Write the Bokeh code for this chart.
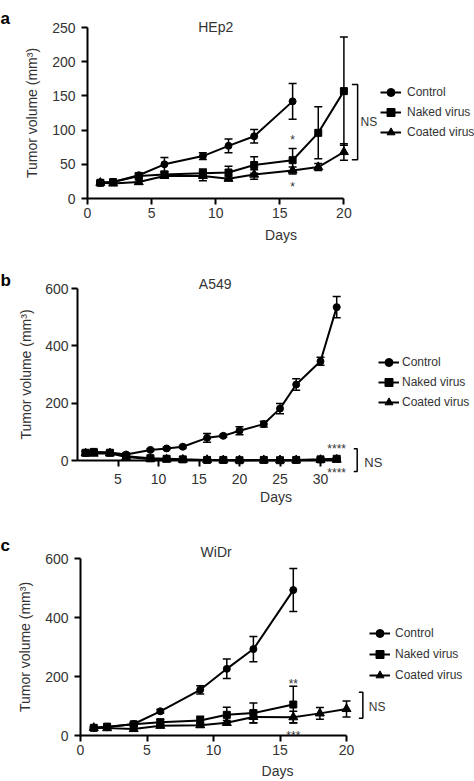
from bokeh.plotting import figure
from bokeh.models import (ColumnDataSource, Whisker, TeeHead, Legend, LegendItem,
                          FixedTicker, Range1d)
from bokeh.layouts import column
from bokeh.core.properties import value
from bokeh.embed import file_html
from bokeh.resources import INLINE

FONT = "Liberation Sans"
TXT = "#333333"

series_names = ["Control", "Naked virus", "Coated virus"]
series_markers = ["circle", "square", "triangle"]

# ---------------- Panel a : HEp2 ----------------
title_a = "HEp2"
days_ctrl_a = [1, 2, 4, 6, 9, 11, 13, 16]
ctrl_a = [23, 24, 34, 50, 62, 77, 91, 142]
ctrl_a_err = [2, 2, 3, 10, 5, 10, 10, 26]
days_naked_a = [1, 2, 4, 6, 9, 11, 13, 16, 18, 20]
naked_a = [23, 24, 33, 35, 37, 38, 49, 56, 96, 157]
naked_a_err = [2, 2, 3, 4, 6, 9, 12, 17, 38, 79]
days_coated_a = [1, 2, 4, 6, 9, 11, 13, 16, 18, 20]
coated_a = [23, 22, 24, 33, 33, 29, 35, 41, 46, 68]
coated_a_err = [2, 2, 3, 3, 7, 3, 7, 5, 5, 12]
xticks_a = [0, 5, 10, 15, 20]
yticks_a = [0, 50, 100, 150, 200, 250]
stars_a_x = [16, 16]
stars_a_y = [85, 17]
stars_a_text = ["*", "*"]
bracket_a = [166.7, 56.5]
ns_a_y = 111.5

# ---------------- Panel b : A549 ----------------
title_b = "A549"
days_b = [1, 2, 4, 6, 9, 11, 13, 16, 18, 20, 23, 25, 27, 30, 32]
ctrl_b = [26, 29, 28, 21, 37, 42, 48, 79, 86, 104, 127, 181, 265, 346, 535]
ctrl_b_err = [8, 8, 6, 4, 4, 4, 4, 15, 5, 14, 10, 18, 20, 14, 37]
naked_b = [27, 30, 27, 15, 8, 6, 4, 2, 2, 1, 2, 1, 2, 4, 6]
naked_b_err = [6, 6, 5, 3, 3, 2, 2, 2, 2, 2, 2, 2, 2, 3, 4]
coated_b = [25, 24, 25, 12, 5, 4, 3, 2, 1, 1, 1, 1, 1, 2, 3]
coated_b_err = [5, 5, 5, 3, 2, 2, 2, 2, 2, 2, 2, 2, 2, 2, 2]
xticks_b = [5, 10, 15, 20, 25, 30]
yticks_b = [0, 200, 400, 600]
stars_b_x = [32, 32]
stars_b_y = [38.5, -43]
stars_b_text = ["****", "****"]
bracket_b = [41, -38]
ns_b_y = -7

# ---------------- Panel c : WiDr ----------------
title_c = "WiDr"
days_ctrl_c = [1, 2, 4, 6, 9, 11, 13, 16]
ctrl_c = [26, 28, 39, 82, 155, 226, 293, 493]
ctrl_c_err = [3, 3, 4, 6, 14, 33, 43, 73]
days_naked_c = [1, 2, 4, 6, 9, 11, 13, 16]
naked_c = [26, 30, 38, 45, 51, 70, 76, 105]
naked_c_err = [3, 4, 5, 10, 14, 26, 34, 62]
days_coated_c = [1, 2, 4, 6, 9, 11, 13, 16, 18, 20]
coated_c = [26, 25, 22, 33, 35, 43, 63, 62, 75, 90]
coated_c_err = [3, 4, 8, 6, 6, 8, 20, 20, 20, 27]
xticks_c = [0, 5, 10, 15, 20]
yticks_c = [0, 200, 400, 600]
stars_c_x = [16, 16]
stars_c_y = [173, -1]
stars_c_text = ["**", "***"]
bracket_c = [146.5, 58.5]
ns_c_y = 98

W = 474


def make_panel(letter, title, series, xticks, yticks, xbounds, ytop, g,
               stars_x, stars_y, stars_text, bracket, ns_y):
    frame_w = W - g["left"]
    frame_h = g["h"] - g["top"] - g["bottom"]
    xend = frame_w / g["pxday"]
    px_per_y = frame_h / ytop
    p = figure(width=W, height=g["h"], output_backend="svg", toolbar_location=None,
               x_range=Range1d(0, xend), y_range=Range1d(0, ytop),
               min_border_left=g["left"], min_border_right=0,
               min_border_top=g["top"], min_border_bottom=g["bottom"])
    p.frame_align = False
    p.xgrid.visible = False
    p.ygrid.visible = False
    p.outline_line_color = None

    for ax in (p.xaxis[0], p.yaxis[0]):
        ax.axis_line_width = 2
        ax.axis_line_color = "black"
        ax.major_tick_line_width = 2
        ax.major_tick_line_color = "black"
        ax.major_tick_out = 6
        ax.major_tick_in = 0
        ax.minor_tick_line_color = None
        ax.major_label_text_font = FONT
        ax.major_label_text_font_size = "14px"
        ax.major_label_text_color = TXT
        ax.axis_label_text_font = FONT
        ax.axis_label_text_font_size = "14px"
        ax.axis_label_text_font_style = "normal"
        ax.axis_label_text_color = TXT
    p.xaxis.ticker = FixedTicker(ticks=xticks)
    p.yaxis.ticker = FixedTicker(ticks=yticks)
    p.xaxis.bounds = xbounds
    p.yaxis.bounds = (0, ytop)
    p.xaxis.axis_label = "Days"
    p.yaxis.axis_label = "Tumor volume (mm³)"
    p.xaxis.major_label_standoff = g["xs1"]
    p.xaxis.axis_label_standoff = g["xs2"]
    p.yaxis.major_label_standoff = g["ys1"]
    p.yaxis.axis_label_standoff = g["ys2"]

    items = []
    for (name, mk, days, vals, errs) in series:
        src = ColumnDataSource(dict(
            x=days, y=vals,
            upper=[v + e for v, e in zip(vals, errs)],
            lower=[v - e for v, e in zip(vals, errs)]))
        ln = p.line("x", "y", source=src, line_width=2, line_color="black", level="overlay")
        w = Whisker(base="x", upper="upper", lower="lower", source=src,
                    dimension="height", line_width=1.5, line_color="black", level="overlay",
                    upper_head=TeeHead(size=8, line_width=1.5, line_color="black"),
                    lower_head=TeeHead(size=8, line_width=1.5, line_color="black"))
        p.add_layout(w)
        size = 9 if mk == "triangle" else 7
        sc = p.scatter("x", "y", source=src, marker=mk, size=size,
                       fill_color="black", line_color="black", level="overlay")
        items.append(LegendItem(label=name, renderers=[ln, sc]))

    leg = Legend(items=items, location=g["leg"], orientation="vertical",
                 background_fill_alpha=0, border_line_alpha=0, padding=0, margin=0,
                 spacing=g["legsp"], glyph_width=21, glyph_height=20, label_height=20,
                 label_standoff=g["legstand"], label_text_font=FONT,
                 label_text_font_size="12px", label_text_color=TXT, level="overlay")
    p.add_layout(leg)

    # significance marks
    p.text(x=stars_x, y=stars_y, text=stars_text, text_font=value(FONT),
           text_font_size=value("12px"), text_color=TXT, text_align="center",
           text_baseline="middle", level="overlay")
    xt, xv = g["brx"]
    p.line(x=[xt, xv, xv, xt], y=[bracket[0], bracket[0], bracket[1], bracket[1]],
           line_width=1.5, line_color="black", level="overlay")
    p.text(x=[g["nsx"]], y=[ns_y], text=["NS"], text_font=value(FONT),
           text_font_size=value(g["nsfs"]), text_color=TXT, text_align="left",
           text_baseline="middle", level="overlay")

    # title (centred over the axis) and panel letter (at the page's left edge)
    p.text(x=[g["tx"]], y=[ytop + g["ty"] / px_per_y], text=[title],
           text_font=value(FONT), text_font_size=value("14px"), text_color=TXT,
           text_align="center", text_baseline="alphabetic", level="overlay")
    p.text(x=[-g["left"] / g["pxday"]], y=[ytop + g["ly"] / px_per_y], text=[letter],
           text_font=value(FONT), text_font_size=value("17px"), text_font_style="bold",
           text_color="black", text_align="left", text_baseline="alphabetic",
           level="overlay")
    return p


geom_a = dict(h=262, left=87, top=27, bottom=64, pxday=12.82,
              xs1=3, xs2=6, ys1=6, ys2=9, leg=(293, 56), legsp=0, legstand=6,
              brx=(20.62, 21.07), nsx=21.3, nsfs="12px", tx=10, ty=1, ly=9)
geom_b = dict(h=253, left=77, top=26, bottom=55, pxday=8.1,
              xs1=7, xs2=2, ys1=3, ys2=8, leg=(301, 48), legsp=0, legstand=3,
              brx=(34.11, 34.53), nsx=35.4, nsfs="13px", tx=17, ty=5, ly=8)
geom_c = dict(h=266, left=80, top=43, bottom=46, pxday=13.3,
              xs1=3, xs2=5, ys1=6, ys2=9, leg=(289, 50), legsp=1, legstand=5,
              brx=(20.93, 21.23), nsx=21.68, nsfs="12px", tx=10.2, ty=7, ly=13)

pa = make_panel("a", title_a, [
    (series_names[0], series_markers[0], days_ctrl_a, ctrl_a, ctrl_a_err),
    (series_names[1], series_markers[1], days_naked_a, naked_a, naked_a_err),
    (series_names[2], series_markers[2], days_coated_a, coated_a, coated_a_err)],
    xticks_a, yticks_a, (0, 20), 250, geom_a,
    stars_a_x, stars_a_y, stars_a_text, bracket_a, ns_a_y)

pb = make_panel("b", title_b, [
    (series_names[0], series_markers[0], days_b, ctrl_b, ctrl_b_err),
    (series_names[1], series_markers[1], days_b, naked_b, naked_b_err),
    (series_names[2], series_markers[2], days_b, coated_b, coated_b_err)],
    xticks_b, yticks_b, (0, 32.5), 600, geom_b,
    stars_b_x, stars_b_y, stars_b_text, bracket_b, ns_b_y)

pc = make_panel("c", title_c, [
    (series_names[0], series_markers[0], days_ctrl_c, ctrl_c, ctrl_c_err),
    (series_names[1], series_markers[1], days_naked_c, naked_c, naked_c_err),
    (series_names[2], series_markers[2], days_coated_c, coated_c, coated_c_err)],
    xticks_c, yticks_c, (0, 20), 600, geom_c,
    stars_c_x, stars_c_y, stars_c_text, bracket_c, ns_c_y)

layout = column(pa, pb, pc)
open("out.html", "w").write(file_html(layout, INLINE))
